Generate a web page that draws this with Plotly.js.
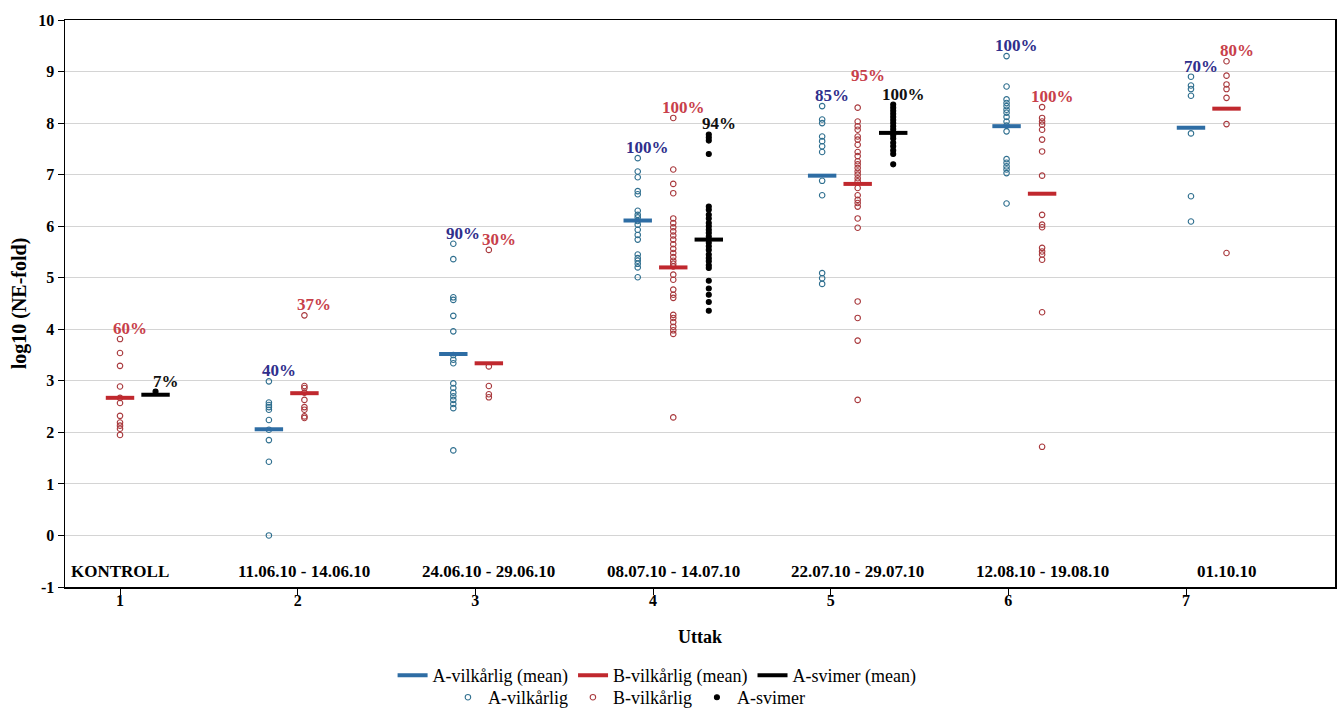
<!DOCTYPE html>
<html><head><meta charset="utf-8">
<script src="https://cdn.plot.ly/plotly-3.0.1.min.js"></script>
<style>html,body{margin:0;padding:0;background:#fff}#chart{width:1341px;height:711px}</style>
</head><body><div id="chart"></div>
<script>
// ---- data ----
const groupLabels = ["KONTROLL", "11.06.10 - 14.06.10", "24.06.10 - 29.06.10", "08.07.10 - 14.07.10", "22.07.10 - 29.07.10", "12.08.10 - 19.08.10", "01.10.10"];
const tickLabels = ["1", "2", "3", "4", "5", "6", "7"];
const yTickValues = [-1, 0, 1, 2, 3, 4, 5, 6, 7, 8, 9, 10];
const yTickLabels = ["-1", "0", "1", "2", "3", "4", "5", "6", "7", "8", "9", "10"];

const aVilkarlig = [
  [],
  [2.99, 2.58, 2.53, 2.49, 2.44, 2.24, 2.05, 1.85, 1.43, 0.0],
  [5.66, 5.36, 4.62, 4.57, 4.26, 3.96, 3.50, 3.41, 3.34, 2.95, 2.86, 2.77, 2.70, 2.63, 2.55, 2.47, 1.65],
  [7.32, 7.06, 6.95, 6.68, 6.62, 6.30, 6.22, 6.17, 6.10, 6.03, 5.93, 5.83, 5.74, 5.45, 5.38, 5.33, 5.27, 5.20, 5.01],
  [8.33, 8.07, 8.00, 7.74, 7.65, 7.55, 7.44, 6.88, 6.60, 5.09, 4.99, 4.88],
  [9.30, 8.71, 8.46, 8.39, 8.33, 8.26, 8.20, 8.12, 8.03, 7.95, 7.84, 7.30, 7.23, 7.16, 7.10, 7.03, 6.44],
  [8.90, 8.73, 8.66, 8.53, 7.80, 6.58, 6.09]
];
const bVilkarlig = [
  [3.81, 3.54, 3.29, 2.89, 2.67, 2.57, 2.32, 2.19, 2.13, 2.07, 1.95],
  [4.27, 2.90, 2.86, 2.77, 2.63, 2.49, 2.44, 2.31, 2.28],
  [5.54, 3.28, 2.90, 2.74, 2.68],
  [8.10, 7.10, 6.82, 6.64, 6.15, 6.06, 5.98, 5.90, 5.82, 5.74, 5.65, 5.56, 5.48, 5.40, 5.33, 5.27, 5.22, 5.06, 4.96, 4.77, 4.67, 4.61, 4.28, 4.22, 4.14, 4.05, 3.98, 3.91, 2.29],
  [8.30, 8.03, 7.94, 7.87, 7.74, 7.68, 7.58, 7.44, 7.36, 7.26, 7.20, 7.13, 7.06, 7.00, 6.93, 6.87, 6.74, 6.60, 6.51, 6.45, 6.38, 6.15, 5.97, 4.54, 4.22, 3.78, 2.63],
  [8.31, 8.10, 8.03, 7.97, 7.87, 7.68, 7.45, 6.98, 6.22, 6.03, 5.98, 5.58, 5.51, 5.45, 5.35, 4.33, 1.72],
  [9.20, 8.92, 8.75, 8.66, 8.49, 7.98, 5.48]
];
const aSvimer = [
  [2.79],
  [],
  [],
  [7.78, 7.72, 7.66, 7.40, 6.38, 6.32, 6.22, 6.15, 6.06, 6.00, 5.93, 5.87, 5.80, 5.74, 5.68, 5.61, 5.54, 5.45, 5.38, 5.32, 5.24, 5.19, 4.94, 4.79, 4.67, 4.53, 4.36],
  [8.36, 8.30, 8.24, 8.18, 8.12, 8.06, 8.00, 7.94, 7.88, 7.82, 7.76, 7.70, 7.62, 7.55, 7.47, 7.40, 7.20],
  [],
  []
];
const aVilkarligMean = [null, 2.06, 3.52, 6.11, 6.98, 7.94, 7.91];
const bVilkarligMean = [2.67, 2.76, 3.34, 5.20, 6.82, 6.63, 8.28];
const aSvimerMean    = [2.73, null, null, 5.74, 7.81, null, null];

const aVilkarligPct = [null, "40%", "90%", "100%", "85%", "100%", "70%"];
const bVilkarligPct = ["60%", "37%", "30%", "100%", "95%", "100%", "80%"];
const aSvimerPct    = ["7%", null, null, "94%", "100%", null, null];

// ---- layout helpers ----
const FONT = "Liberation Serif, 'Times New Roman', serif";
const groupStep = 1.038;
const OFF = {A: -0.2, B: 0, S: 0.2};
const baseX = i => 1 + i * groupStep;

const COL = {
  A: "#2e6da4", B: "#c0282e", S: "#000000",
  Adot: "#2f6f8f", Bdot: "#a8383c", Sdot: "#000000",
  Atxt: "#2f2f8c", Btxt: "#c8404a", Stxt: "#111111"
};

function dotsTrace(values, off, name, color, filled) {
  const x = [], y = [];
  values.forEach((arr, i) => arr.forEach(v => { x.push(baseX(i) + off); y.push(v); }));
  return {
    type: "scatter", mode: "markers", x, y, name, legend: "legend2", hoverinfo: "y",
    marker: {symbol: filled ? "circle" : "circle-open", size: filled ? 5 : 5.5, color: color,
             line: {width: 1.1, color: color}}
  };
}
function meanTrace(means, off, name, color) {
  const x = [], y = [];
  means.forEach((m, i) => {
    if (m == null) return;
    const c = baseX(i) + off;
    x.push(c - 0.08, c + 0.08, null); y.push(m, m, null);
  });
  return {type: "scatter", mode: "lines", x, y, name, legend: "legend", connectgaps: false,
          line: {color: color, width: 4}, hoverinfo: "y"};
}

const traces = [
  dotsTrace(aVilkarlig, OFF.A, "A-vilkårlig", COL.Adot, false),
  dotsTrace(bVilkarlig, OFF.B, "B-vilkårlig", COL.Bdot, false),
  dotsTrace(aSvimer, OFF.S, "A-svimer", COL.Sdot, true),
  meanTrace(aVilkarligMean, OFF.A, "A-vilkårlig (mean)", COL.A),
  meanTrace(bVilkarligMean, OFF.B, "B-vilkårlig (mean)", COL.B),
  meanTrace(aSvimerMean, OFF.S, "A-svimer (mean)", COL.S)
];

const annotations = [];
const extraLift = {"B4": 22};
function addPct(pcts, values, off, color, key) {
  pcts.forEach((p, i) => {
    if (!p) return;
    const top = Math.max(...values[i]);
    annotations.push({
      x: baseX(i) + off, y: top, xref: "x", yref: "y", text: "<b>" + p + "</b>",
      showarrow: false, xanchor: "center", yanchor: "bottom", xshift: 10,
      yshift: -1 + (extraLift[key + i] || 0),
      font: {family: FONT, size: 17, color: color}
    });
  });
}
addPct(aVilkarligPct, aVilkarlig, OFF.A, COL.Atxt, "A");
addPct(bVilkarligPct, bVilkarlig, OFF.B, COL.Btxt, "B");
addPct(aSvimerPct, aSvimer, OFF.S, COL.Stxt, "S");

groupLabels.forEach((g, i) => {
  annotations.push({
    x: baseX(i), y: -0.7, xref: "x", yref: "y", text: "<b>" + g + "</b>", showarrow: false,
    xanchor: "center", yanchor: "middle", font: {family: FONT, size: 17, color: "#000"}
  });
});

const layout = {
  width: 1341, height: 711,
  margin: {l: 65, r: 6, t: 20, b: 124, pad: 0},
  paper_bgcolor: "#ffffff", plot_bgcolor: "#ffffff",
  font: {family: FONT, color: "#000", size: 16},
  showlegend: true,
  xaxis: {
    range: [0.6904, 7.8386], tickmode: "array", tickvals: [1, 2, 3, 4, 5, 6, 7], ticktext: tickLabels,
    ticks: "outside", ticklen: 6, tickwidth: 1, tickcolor: "#000", ticklabelstandoff: -8,
    showgrid: false, zeroline: false, showline: true, linecolor: "#000", linewidth: 1.5, mirror: true,
    tickfont: {family: FONT, size: 16, weight: "bold", color: "#000"},
    title: {text: "<b>Uttak</b>", font: {family: FONT, size: 18, color: "#000"}, standoff: 22}
  },
  yaxis: {
    range: [-1, 10], tickmode: "array", tickvals: yTickValues, ticktext: yTickLabels,
    ticks: "outside", ticklen: 6, tickwidth: 1, tickcolor: "#000",
    showgrid: true, gridcolor: "#d4d4d4", gridwidth: 1, zeroline: false,
    showline: true, linecolor: "#000", linewidth: 1.5, mirror: true,
    tickfont: {family: FONT, size: 16, weight: "bold", color: "#000"},
    title: {text: "<b>log10 (NE-fold)</b>", font: {family: FONT, size: 20, color: "#000"}, standoff: 6}
  },
  legend: {
    orientation: "h", xref: "container", yref: "container", x: 0.49, xanchor: "center",
    y: 0.05, yanchor: "middle", font: {family: FONT, size: 18, color: "#000"},
    bgcolor: "rgba(0,0,0,0)", itemwidth: 30, traceorder: "normal"
  },
  legend2: {
    orientation: "h", xref: "container", yref: "container", x: 0.469, xanchor: "center",
    y: 0.019, yanchor: "middle", font: {family: FONT, size: 18, color: "#000"},
    bgcolor: "rgba(0,0,0,0)", itemwidth: 30, traceorder: "normal"
  },
  annotations: annotations
};

Plotly.newPlot("chart", traces, layout, {displayModeBar: false, staticPlot: true});
</script>
</body></html>
